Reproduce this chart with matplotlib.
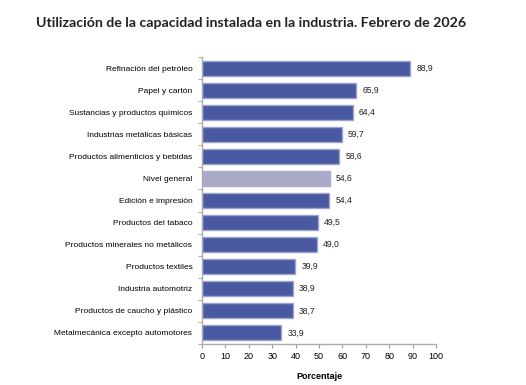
import matplotlib.pyplot as plt
import numpy as np

categories = ['Refinación del petróleo', 'Papel y cartón', 'Sustancias y productos químicos',
              'Industrias metálicas básicas', 'Productos alimenticios y bebidas', 'Nivel general',
              'Edición e impresión', 'Productos del tabaco', 'Productos minerales no metálicos',
              'Productos textiles', 'Industria automotriz', 'Productos de caucho y plástico',
              'Metalmecánica excepto automotores']
values = [88.9, 65.9, 64.4, 59.7, 58.6, 54.6, 54.4, 49.5, 49.0, 39.9, 38.9, 38.7, 33.9]

plt.rcParams['font.family'] = ['Liberation Sans', 'DejaVu Sans']

fig = plt.figure(figsize=(5.26, 3.85), dpi=100)
ax = fig.add_axes([0.384, 0.1065, 0.445, 0.7455])

y = np.arange(len(categories))
colors = ['#a9a9c8' if c == 'Nivel general' else '#4a5aa2' for c in categories]
edges = ['#a9a9c8' if c == 'Nivel general' else '#9ea4cc' for c in categories]
ax.barh(y, values, height=0.68, color=colors, edgecolor=edges, linewidth=1.0)

for yi, v in zip(y, values):
    ax.text(v + 2.6, yi, f'{v:.1f}'.replace('.', ','), va='center', ha='left',
            fontsize=6.2, color='#222222')

ax.set_ylim(len(categories) - 0.5, -0.5)
ax.set_xlim(0, 100)
ax.set_xticks(range(0, 101, 10))
ax.set_yticks(y)
ax.set_yticklabels(categories)
ax.set_yticks(np.arange(-0.5, len(categories), 1), minor=True)
ax.tick_params(axis='y', which='major', length=0, labelsize=6.0, pad=7)
ax.tick_params(axis='y', which='minor', length=3, color='#999999')
ax.tick_params(axis='x', length=3, color='#999999', labelsize=6.5, pad=3)

for s in ['top', 'right']:
    ax.spines[s].set_visible(False)
for s in ['left', 'bottom']:
    ax.spines[s].set_color('#aaaaaa')
    ax.spines[s].set_linewidth(1.0)

ax.set_xlabel('Porcentaje', fontsize=6.5, fontweight='bold', labelpad=8)

fig.text(0.068, 0.94, 'Utilización de la capacidad instalada en la industria. Febrero de 2026',
         fontsize=10.15, fontweight='bold', family=['Lato', 'DejaVu Sans'], color='#222222',
         va='center', ha='left')

fig.savefig('out.png', dpi=100, facecolor='white')
